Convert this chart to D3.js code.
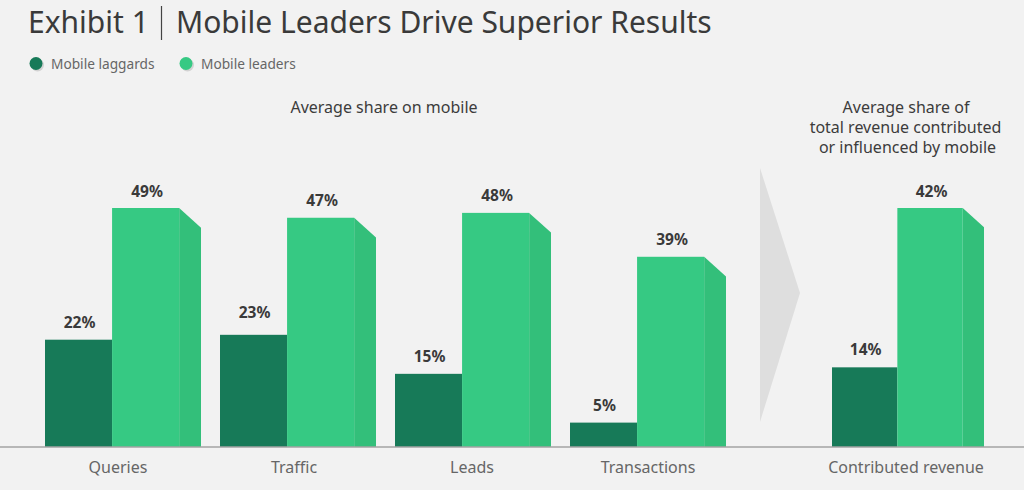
<!DOCTYPE html>
<html>
<head>
<meta charset="utf-8">
<title>Exhibit 1</title>
<script src="https://cdnjs.cloudflare.com/ajax/libs/d3/7.8.5/d3.min.js"></script>
<style>
  html, body { margin: 0; padding: 0; background: #f2f2f2; overflow: hidden; }
  svg { display: block; font-family: "Noto Sans", sans-serif; }
</style>
</head>
<body>
<div id="chart"></div>
<script>
// share on mobile, left panel
const categories = ["Queries", "Traffic", "Leads", "Transactions"];
const laggards = [22, 23, 15, 5];
const leaders = [49, 47, 48, 39];

// revenue panel, has its own scale in the original
const revCategories = ["Contributed revenue"];
const revLaggards = [14];
const revLeaders = [42];

const legendItems = ["Mobile laggards", "Mobile leaders"];

const width = 1024, height = 490;
const baseY = 447;
const dark = "#177a58", light = "#36c983", side = "#33bf7a";

// hand placed labels in the original are not centred on their bars
const tickNudge = { Queries: -5, Traffic: -4, Leads: -1, Transactions: 0, "Contributed revenue": -2 };
const lagLabelNudge = { Traffic: -5 };

const svg = d3.select("#chart").append("svg")
    .attr("width", width)
    .attr("height", height);

svg.append("rect").attr("width", width).attr("height", height).attr("fill", "#f2f2f2");

// title
svg.append("text")
    .attr("x", 28).attr("y", 33)
    .attr("font-size", 30)
    .attr("fill", "#3a3a3a")
    .text("Exhibit 1");
svg.append("text")
    .attr("x", 176).attr("y", 33)
    .attr("font-size", 30)
    .attr("fill", "#3a3a3a")
    .text("Mobile Leaders Drive Superior Results");
svg.append("line")
    .attr("x1", 161.5).attr("x2", 161.5).attr("y1", 6).attr("y2", 40)
    .attr("stroke", "#444").attr("stroke-width", 1.2);

// legend
const legendX = [36, 186];
legendItems.forEach((t, i) => {
    svg.append("circle").attr("cx", legendX[i] + 1.5).attr("cy", 65).attr("r", 6.5).attr("fill", "#d2d2d2");
    svg.append("circle").attr("cx", legendX[i]).attr("cy", 63.5).attr("r", 6.5).attr("fill", i ? light : dark);
    svg.append("text")
        .attr("x", legendX[i] + 15).attr("y", 69)
        .attr("font-size", 13.7)
        .attr("fill", "#666")
        .text(t);
});

// panel headings
svg.append("text")
    .attr("x", 384).attr("y", 113)
    .attr("text-anchor", "middle")
    .attr("font-size", 16)
    .attr("fill", "#3c3c3c")
    .text("Average share on mobile");

const headLines = ["Average share of", "total revenue contributed", "or influenced by mobile"];
const headX = [906, 905.5, 907.5];
svg.append("text")
    .attr("text-anchor", "middle")
    .attr("font-size", 16)
    .attr("fill", "#3c3c3c")
    .selectAll("tspan")
    .data(headLines)
    .join("tspan")
    .attr("x", (d, i) => headX[i])
    .attr("y", (d, i) => 113 + i * 20)
    .text(d => d);

// grey arrow between the panels
svg.append("path")
    .attr("d", "M760,168L800,293L760,422Z")
    .attr("fill", "#dedede");

function drawPanel(cats, lag, lead, x, y) {
    const bw = x.bandwidth();
    const front = bw * 0.43;
    const depth = bw - 2 * front;
    const chamfer = depth * 0.9;

    const groups = svg.append("g").selectAll("g")
        .data(cats)
        .join("g")
        .attr("transform", d => `translate(${x(d)},0)`);

    // dark bar
    groups.append("rect")
        .attr("x", 0)
        .attr("y", (d, i) => y(lag[i]))
        .attr("width", front)
        .attr("height", (d, i) => baseY - y(lag[i]))
        .attr("fill", dark);

    // side face of the light bar
    groups.append("path")
        .attr("d", (d, i) => {
            const top = y(lead[i]);
            return `M${2 * front},${top}L${bw},${top + chamfer}L${bw},${baseY}L${2 * front},${baseY}Z`;
        })
        .attr("fill", side);

    // light bar
    groups.append("rect")
        .attr("x", front)
        .attr("y", (d, i) => y(lead[i]))
        .attr("width", front)
        .attr("height", (d, i) => baseY - y(lead[i]))
        .attr("fill", light);

    // value labels
    const labels = svg.append("g")
        .attr("text-anchor", "middle")
        .attr("font-size", 15.5)
        .attr("font-weight", 700)
        .attr("fill", "#3a3a3a");
    cats.forEach((c, i) => {
        labels.append("text")
            .attr("x", x(c) + front / 2 + 1)
            .attr("y", y(lag[i]) - 12 + (lagLabelNudge[c] || 0))
            .text(lag[i] + "%");
        labels.append("text")
            .attr("x", x(c) + front * 1.5 + 1.5)
            .attr("y", y(lead[i]) - 11.5)
            .text(lead[i] + "%");
    });

    // category labels
    const axis = svg.append("g")
        .attr("transform", `translate(0,${baseY})`)
        .call(d3.axisBottom(x).tickSize(0).tickPadding(15));
    axis.select(".domain").remove();
    axis.selectAll("text")
        .attr("dx", d => tickNudge[d])
        .attr("font-family", "\"Noto Sans\", sans-serif")
        .attr("font-size", 16)
        .attr("fill", "#666");
}

const xLeft = d3.scaleBand().domain(categories).range([45, 726]).paddingInner(19 / 175);
const yLeft = d3.scaleLinear().domain([0, 49]).range([baseY, 208]);
drawPanel(categories, laggards, leaders, xLeft, yLeft);

const xRight = d3.scaleBand().domain(revCategories).range([832, 984]);
const yRight = d3.scaleLinear().domain([0, 42]).range([baseY, 208]);
drawPanel(revCategories, revLaggards, revLeaders, xRight, yRight);

// baseline
svg.append("line")
    .attr("x1", 0).attr("x2", width)
    .attr("y1", baseY).attr("y2", baseY)
    .attr("stroke", "#a3a3a3").attr("stroke-width", 1.5);
</script>
</body>
</html>
